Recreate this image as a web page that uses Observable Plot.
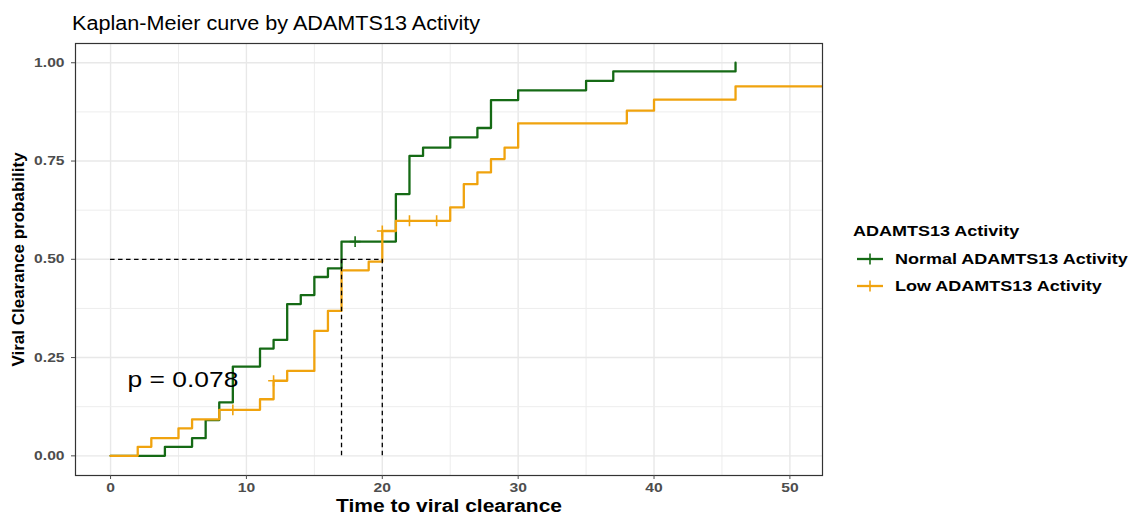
<!DOCTYPE html>
<html>
<head>
<meta charset="utf-8">
<script src="https://cdn.jsdelivr.net/npm/d3@7"></script>
<script src="https://cdn.jsdelivr.net/npm/@observablehq/plot@0.6"></script>
<style>
  html, body { margin: 0; padding: 0; background: #fff; }
  #wrap { position: relative; width: 1133px; height: 515px; font-family: "Liberation Sans", Arial, sans-serif; overflow: hidden; }
  #title { position: absolute; left: 72px; top: 13px; font-size: 20px; line-height: 20px; color: #000; white-space: nowrap; transform: scaleX(1.08); transform-origin: left center; }
  #chart { position: absolute; left: 0; top: 35px; }
  .lg { position: absolute; white-space: nowrap; font-weight: bold; font-size: 15px; line-height: 15px; color: #000; transform: scaleX(1.2); transform-origin: left center; }
  .key { position: absolute; }
</style>
</head>
<body>
<div id="wrap">
  <div id="title"></div>
  <div id="chart"></div>
  <div id="legend"></div>
</div>
<script>
// ---- data ----
const titleText = "Kaplan-Meier curve by ADAMTS13 Activity";
const xLabel = "Time to viral clearance";
const yLabel = "Viral Clearance probability";
const legendTitle = "ADAMTS13 Activity";
const groupNames = ["Normal ADAMTS13 Activity", "Low ADAMTS13 Activity"];
const groupColors = ["#156A15", "#F0A30E"];

const xTicks = [0, 10, 20, 30, 40, 50];
const xMinor = [5, 15, 25, 35, 45];
const yTicks = [0, 0.25, 0.5, 0.75, 1];
const yMinor = [0.125, 0.375, 0.625, 0.875];

// Normal ADAMTS13 Activity: event times and cumulative clearance probability
const normalTime = [0, 4, 6, 7, 8, 9, 11, 12, 13, 14, 15, 16, 17, 21, 22, 23, 25, 27, 28, 30, 35, 37, 46];
const normalProb = [0, 0.023, 0.045, 0.091, 0.136, 0.227, 0.273, 0.295, 0.386, 0.409, 0.455, 0.477, 0.545, 0.666, 0.763, 0.784, 0.810, 0.834, 0.905, 0.930, 0.954, 0.978, 1.0];
const normalCensor = [18];

// Low ADAMTS13 Activity
const lowTime = [0, 2, 3, 5, 6, 8, 11, 12, 13, 15, 16, 17, 19, 20, 21, 25, 26, 27, 28, 29, 30, 38, 40, 46, 54];
const lowProb = [0, 0.023, 0.045, 0.070, 0.093, 0.117, 0.144, 0.191, 0.216, 0.318, 0.369, 0.472, 0.494, 0.572, 0.598, 0.632, 0.691, 0.721, 0.755, 0.784, 0.846, 0.878, 0.906, 0.940, 0.940];
const lowCensor = [9, 12, 20, 22, 24];

const medianTimes = [17, 20];
const medianLevel = [0.5];

const pValueLabel = "p = 0.078";
const pValueX = 1.25, pValueY = 0.192;

// ---- build tables ----
const normal = normalTime.map((t, i) => ({t, p: normalProb[i]}));
const low = lowTime.map((t, i) => ({t, p: lowProb[i]}));
function stepAt(times, probs, t) {
  let v = probs[0];
  for (let i = 0; i < times.length; i++) if (times[i] <= t) v = probs[i];
  return v;
}
const normalCens = normalCensor.map(t => ({t, p: stepAt(normalTime, normalProb, t)}));
const lowCens = lowCensor.map(t => ({t, p: stepAt(lowTime, lowProb, t)}));

const font = "'Liberation Sans', Arial, sans-serif";

const plot = Plot.plot({
  width: 840,
  height: 480,
  marginLeft: 75,
  marginRight: 18,
  marginTop: 8,
  marginBottom: 40,
  style: {fontFamily: font, background: "white"},
  x: {domain: [-2.58, 52.4]},
  y: {domain: [-0.05, 1.049]},
  marks: [
    Plot.ruleX(xMinor, {stroke: "#EDEDED", strokeWidth: 1}),
    Plot.ruleX(xTicks, {stroke: "#E8E8E8", strokeWidth: 1.4}),
    Plot.ruleY(yMinor, {stroke: "#EDEDED", strokeWidth: 1}),
    Plot.ruleY(yTicks, {stroke: "#E8E8E8", strokeWidth: 1.4}),
    Plot.line(normal, {x: "t", y: "p", curve: "step-after", stroke: groupColors[0], strokeWidth: 2.3, clip: true}),
    Plot.line(low, {x: "t", y: "p", curve: "step-after", stroke: groupColors[1], strokeWidth: 2.3, clip: true}),
    Plot.dot(normalCens, {x: "t", y: "p", symbol: "plus", r: 3.6, stroke: groupColors[0], strokeWidth: 1.6}),
    Plot.dot(lowCens, {x: "t", y: "p", symbol: "plus", r: 3.6, stroke: groupColors[1], strokeWidth: 1.6}),
    Plot.ruleY(medianLevel, {x1: 0, x2: d3.max(medianTimes), stroke: "#000", strokeWidth: 1.3, strokeDasharray: "4.5,3.5"}),
    Plot.ruleX(medianTimes, {y1: 0, y2: medianLevel[0], stroke: "#000", strokeWidth: 1.3, strokeDasharray: "4.5,3.5"}),
    Plot.text([pValueLabel], {x: pValueX, y: pValueY, text: d => d, textAnchor: "start", fontSize: 22, fill: "#000"}),
    Plot.frame({stroke: "#333", strokeWidth: 1.2}),
    Plot.axisX({ticks: xTicks, tickSize: 4, tickPadding: 3, fontSize: 13, fontWeight: "bold", color: "#4D4D4D", label: null}),
    Plot.axisY({ticks: yTicks, tickSize: 4, tickPadding: 7, tickFormat: d3.format(".2f"), fontSize: 13, fontWeight: "bold", color: "#4D4D4D", label: null}),
    Plot.text([xLabel], {frameAnchor: "bottom", dy: 36, text: d => d, fontSize: 17.5, fontWeight: "bold", fill: "#000"}),
    Plot.text([yLabel], {frameAnchor: "left", dx: -57, rotate: -90, textAnchor: "middle", text: d => d, fontSize: 17, fontWeight: "bold", fill: "#000", className: "ylab"})
  ]
});

document.getElementById("chart").appendChild(plot);
document.getElementById("title").textContent = titleText;

// horizontal stretch of text, as in the reference image
plot.querySelectorAll("text").forEach(t => {
  if (t.closest(".ylab")) return;
  const L = t.getComputedTextLength();
  if (L > 0) {
    t.setAttribute("textLength", (L * 1.2).toFixed(1));
    t.setAttribute("lengthAdjust", "spacingAndGlyphs");
  }
});

// ---- legend ----
const legend = document.getElementById("legend");
const lt = document.createElement("div");
lt.className = "lg";
lt.style.left = "853px"; lt.style.top = "223px";
lt.textContent = legendTitle;
legend.appendChild(lt);
groupNames.forEach((name, i) => {
  const top = 251 + i * 27;
  const key = document.createElementNS("http://www.w3.org/2000/svg", "svg");
  key.setAttribute("class", "key");
  key.setAttribute("width", 30); key.setAttribute("height", 16);
  key.style.left = "855px"; key.style.top = (top + 0) + "px";
  key.innerHTML = `<line x1="2" x2="28" y1="8" y2="8" stroke="${groupColors[i]}" stroke-width="2.3"/>
                   <line x1="15" x2="15" y1="2.5" y2="13.5" stroke="${groupColors[i]}" stroke-width="1.6"/>`;
  legend.appendChild(key);
  const lab = document.createElement("div");
  lab.className = "lg";
  lab.style.left = "895px"; lab.style.top = top + "px";
  lab.textContent = name;
  legend.appendChild(lab);
});
</script>
</body>
</html>
